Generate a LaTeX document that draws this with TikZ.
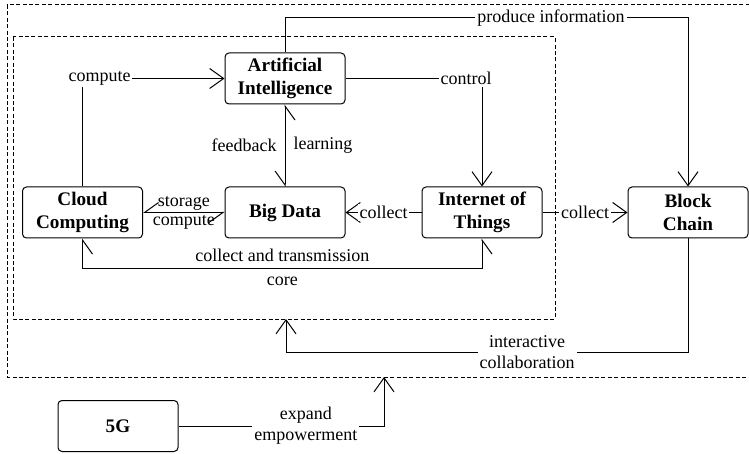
\documentclass[tikz,border=0pt]{standalone}
\usepackage{fontspec}
\setmainfont{Liberation Serif}
\usetikzlibrary{arrows.meta, calc}

\begin{document}
\begin{tikzpicture}[
        x=0.5pt, y=-0.5pt,
        line width=0.5pt,
        >={Straight Barb[length=7pt, width=10pt]},
        half/.style={{Straight Barb[harpoon, swap, length=7pt, width=10pt]}-{Straight Barb[harpoon, swap, length=7pt, width=10pt]}},
        unit/.style={draw, rectangle, rounded corners=2pt, minimum width=60pt, minimum height=25.5pt, align=center, inner sep=1pt, font=\fontsize{9.6}{11.5}\selectfont\bfseries},
        frame/.style={dash pattern=on 2pt off 1.2pt, line width=0.5pt},
        label_text/.style={font=\fontsize{9}{10.5}\selectfont, inner sep=1pt},
        cut/.style={label_text, fill=white, align=center}
        ]
        \useasboundingbox (0,0) rectangle (749,454);

        % Frames
        \draw[frame] (7,5) rectangle (752,377);
        \draw[frame] (13,37) rectangle (555,319);

        % Nodes
        \node[unit] (ai) at (285,78.5) {Artificial\\Intelligence};
        \node[unit] (cloud) at (82.5,212.5) {Cloud\\Computing};
        \node[unit] (bigdata) at (285,212.5) {Big Data};
        \node[unit] (iot) at (482,212.5) {Internet of\\Things};
        \node[unit] (chain) at (688,212.5) {Block\\Chain};
        \node[unit] (fiveg) at (118,426) {5G};

        % Bend points
        \coordinate (ptop) at (285,18);
        \coordinate (ibend) at (286,352);
        \coordinate (innerhit) at (286,319);
        \coordinate (outerhit) at (384,377);

        % Arrows
        \draw[->] (cloud.north) |- node[cut, xshift=8.5pt] {compute} (ai.west);
        \draw[->] (ai.east) -| node[cut, xshift=-8pt] {control} (iot.north);
        \draw[half] (ai.south) -- node[label_text, left=3pt] {feedback} node[label_text, right=3pt] {learning} (bigdata.north);
        \draw[half] (cloud.east) -- node[label_text, above] {storage} node[label_text, below] {compute} (bigdata.west);
        \draw[->] (iot.west) -- node[cut] {collect} (bigdata.east);
        \draw[->] (iot.east) -- node[cut] {collect} (chain.west);
        \draw[half] (cloud.south) -- ++(0,30) -| node[label_text, pos=0.25, above=2pt] {collect and transmission} node[label_text, pos=0.25, below=3pt] {core} (iot.south);

        % Outer links
        \draw[->] (ai.north) -- (ptop) -| node[cut, pos=0.33] {produce information} (chain.north);
        \draw[->] (chain.south) |- node[cut, pos=0.7] {interactive\\collaboration} (ibend) -- (innerhit);
        \draw[->] (fiveg.east) -| node[cut, pos=0.31] {expand\\empowerment} (outerhit);

    \end{tikzpicture}
\end{document}
